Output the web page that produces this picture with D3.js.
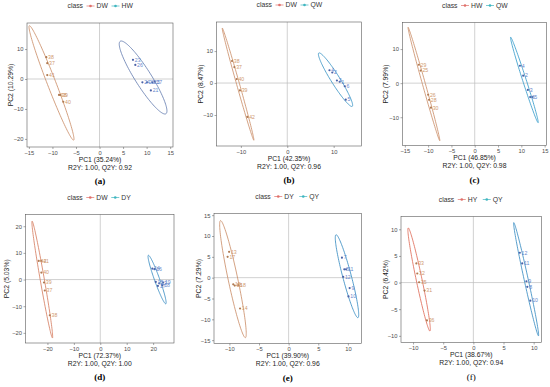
<!DOCTYPE html>
<html>
<head>
<meta charset="utf-8">
<script src="https://cdn.jsdelivr.net/npm/d3@7"></script>
<style>body{margin:0;background:#fff}</style>
</head>
<body>
<div id="chart"></div>
<script>
// ---- data ----
const panelLetters = ["(a)", "(b)", "(c)", "(d)", "(e)", "(f)"];
const classNames = [["DW", "HW"], ["DW", "QW"], ["HW", "QW"], ["DW", "DY"], ["DY", "QY"], ["HY", "QY"]];
const pc1Pct = ["35.24", "42.35", "46.85", "72.37", "39.90", "38.67"];
const pc2Pct = ["10.29", "8.47", "7.99", "5.03", "7.29", "6.42"];
const r2y = ["1.00", "1.00", "1.00", "1.00", "1.00", "1.00"];
const q2y = ["0.92", "0.96", "0.98", "1.00", "0.96", "0.94"];

const xTicks = [[-15, -10, -5, 0, 5, 10, 15], [-10, 0, 10], [-15, -10, -5, 0, 5, 10, 15],
                [-20, -10, 0, 10, 20], [-10, -5, 0, 5, 10], [-10, -5, 0, 5, 10]];
const yTicks = [[-20, -10, 0, 10], [-10, 0, 10], [-10, 0, 10],
                [-20, -10, 0, 10, 20], [-15, -10, -5, 0, 5, 10, 15], [-10, -5, 0, 5, 10]];
const xDomains = [[-15.4, 15.6], [-15.25, 16.0], [-15.5, 15.4], [-28.3, 27.9], [-12.6, 12.3], [-12.0, 11.3]];
const yDomains = [[-22.7, 18.7], [-19.7, 19.1], [-18.3, 17.8], [-23.8, 24.4], [-15.8, 15.4], [-11.25, 12.4]];

// scores: [PC1, PC2, sample id]
const scoresA1 = [[-11.3, 7.3, "38"], [-11.1, 5.3, "37"], [-11.1, 1.3, "41"], [-8.6, -5.3, "38"], [-8.3, -5.3, "39"], [-7.7, -7.6, "40"]];
const scoresA2 = [[7.1, 6.4, "23"], [7.6, 4.7, "26"], [9.1, -1.1, "24"], [10.1, -1.1, "22"], [11.2, -1.1, "25"], [11.7, -0.9, "27"], [10.9, -3.8, "21"]];
const scoresB1 = [[-11.9, 6.9, "38"], [-11.4, 5.0, "37"], [-10.9, 1.25, "40"], [-10.2, -2.3, "39"], [-8.6, -10.6, "42"]];
const scoresB2 = [[9.1, 4.0, "4"], [9.7, 3.3, "2"], [10.7, 0.8, "3"], [11.3, 0.4, "1"], [12.4, -1.0, "6"], [12.6, -5.2, "5"]];
const scoresC1 = [[-12.0, 5.4, "29"], [-11.6, 3.7, "25"], [-10.0, -3.4, "26"], [-9.8, -4.9, "28"], [-9.4, -7.2, "30"]];
const scoresC2 = [[9.7, 5.1, "4"], [10.4, 2.2, "2"], [11.4, -2.0, "3"], [11.9, -4.1, "6"], [12.4, -4.1, "5"]];
const scoresD1 = [[-23.3, 7.0, "42"], [-22.3, 7.0, "41"], [-22.3, 2.6, "40"], [-21.3, -1.1, "39"], [-21.0, -4.1, "37"], [-19.1, -13.4, "38"]];
const scoresD2 = [[19.7, 4.1, "14"], [20.5, 3.9, "16"], [21.0, -0.9, "15"], [22.3, -1.4, "13"], [23.5, -2.1, "18"], [21.8, -2.4, "17"], [23.8, -1.1, "19"]];
const scoresE1 = [[-10.05, 6.2, "13"], [-10.3, 5.0, "17"], [-9.35, -1.6, "16"], [-9.1, -1.9, "15"], [-8.5, -1.8, "18"], [-8.2, -7.4, "14"]];
const scoresE2 = [[9.0, 4.8, "7"], [9.4, 2.0, "8"], [9.7, 2.0, "11"], [9.2, 0.2, "12"], [10.3, -2.5, "9"], [10.1, -4.5, "10"]];
const scoresF1 = [[-9.45, 3.6, "33"], [-9.3, 1.7, "32"], [-9.0, 0.06, "35"], [-8.1, -1.5, "31"], [-7.7, -7.1, "36"]];
const scoresF2 = [[7.7, 5.6, "12"], [8.1, 3.6, "11"], [8.8, 0.25, "9"], [8.95, -0.8, "8"], [9.45, -3.4, "10"]];

// confidence ellipses: major-axis ends in PC units + minor/major ratio
const ellipsesA = [[-14.9, 17.8, -5.5, -20.4, 0.07], [4.4, 12.6, 14.1, -11.6, 0.19]];
const ellipsesB = [[-14.0, 17.2, -7.2, -17.9, 0.025], [6.8, 9.4, 14.0, -7.3, 0.14]];
const ellipsesC = [[-14.3, 16.4, -7.5, -16.9, 0.025], [7.7, 13.5, 13.6, -11.6, 0.04]];
const ellipsesD = [[-25.8, 21.9, -18.1, -21.9, 0.035], [18.2, 9.1, 24.8, -9.1, 0.1]];
const ellipsesE = [[-11.5, 13.7, -7.3, -14.4, 0.08], [8.0, 10.3, 11.7, -9.6, 0.1]];
const ellipsesF = [[-10.8, 10.25, -7.2, -9.1, 0.055], [6.7, 11.25, 10.8, -10.0, 0.035]];

const scores = [[scoresA1, scoresA2], [scoresB1, scoresB2], [scoresC1, scoresC2],
                [scoresD1, scoresD2], [scoresE1, scoresE2], [scoresF1, scoresF2]];
const ellipses = [ellipsesA, ellipsesB, ellipsesC, ellipsesD, ellipsesE, ellipsesF];

// ---- layout / style ----
const boxes = [
  {l: 27, t: 23, r: 173, b: 147, yt: 16},
  {l: 216.5, t: 22, r: 361.5, b: 146, yt: 16},
  {l: 402.5, t: 22.5, r: 546.5, b: 145.5, yt: 17},
  {l: 25.5, t: 214.5, r: 174, b: 343, yt: 19},
  {l: 214, t: 213.5, r: 361.5, b: 343.5, yt: 15},
  {l: 401, t: 216.5, r: 541.5, b: 342.5, yt: 15}
];
const pointColors = ["#b07a52", "#4a62a8"];
const labelColors = ["#d09a70", "#6688cc"];
const legendColors = ["#e0706a", "#3fb6c0"];
const ellipseColors = [["#c98a63", "#5f78ad"], ["#c98a63", "#2f8ec2"], ["#c98a63", "#2c97c8"],
                       ["#d4785a", "#2f86bf"], ["#c98a63", "#2f86bf"], ["#dd6550", "#2f86bf"]];
const letterWeights = ["bold", "bold", "bold", "bold", "bold", "normal"];

const W = 550, H = 387;
const sans = "'Liberation Sans', Arial, sans-serif";

const svg = d3.select("#chart").append("svg")
  .attr("width", W).attr("height", H)
  .attr("viewBox", [0, 0, W, H])
  .style("background", "#fff");

boxes.forEach((bx, i) => {
  const g = svg.append("g");
  const x = d3.scaleLinear().domain(xDomains[i]).range([bx.l, bx.r]);
  const y = d3.scaleLinear().domain(yDomains[i]).range([bx.b, bx.t]);
  const cx = (bx.l + bx.r) / 2, cy = (bx.t + bx.b) / 2;

  // zero lines
  g.append("line").attr("x1", x(0)).attr("x2", x(0)).attr("y1", bx.t).attr("y2", bx.b)
    .attr("stroke", "#bdbdbd").attr("stroke-width", 0.7);
  g.append("line").attr("y1", y(0)).attr("y2", y(0)).attr("x1", bx.l).attr("x2", bx.r)
    .attr("stroke", "#bdbdbd").attr("stroke-width", 0.7);

  // axes
  const xAxis = g.append("g").attr("transform", `translate(0,${bx.b})`)
    .call(d3.axisBottom(x).tickValues(xTicks[i]).tickSize(2).tickPadding(1.5));
  const yAxis = g.append("g").attr("transform", `translate(${bx.l},0)`)
    .call(d3.axisLeft(y).tickValues(yTicks[i]).tickSize(2).tickPadding(1.5));
  [xAxis, yAxis].forEach(a => {
    a.select(".domain").remove();
    a.selectAll(".tick line").attr("stroke", "#555").attr("stroke-width", 0.5);
    a.selectAll(".tick text").attr("fill", "#4d4d4d").attr("font-size", 5.8).attr("font-family", sans);
  });

  // panel border
  g.append("rect").attr("x", bx.l).attr("y", bx.t).attr("width", bx.r - bx.l).attr("height", bx.b - bx.t)
    .attr("fill", "none").attr("stroke", "#5a5a5a").attr("stroke-width", 0.6);

  // ellipses
  const line = d3.line();
  ellipses[i].forEach((e, k) => {
    const p1 = [x(e[0]), y(e[1])], p2 = [x(e[2]), y(e[3])];
    const c = [(p1[0] + p2[0]) / 2, (p1[1] + p2[1]) / 2];
    const dx = (p2[0] - p1[0]) / 2, dy = (p2[1] - p1[1]) / 2;
    const a = Math.hypot(dx, dy), b = a * e[4];
    const u = [dx / a, dy / a], v = [-u[1], u[0]];
    const pts = d3.range(0, 121).map(j => {
      const t = j / 120 * 2 * Math.PI;
      return [c[0] + a * Math.cos(t) * u[0] + b * Math.sin(t) * v[0],
              c[1] + a * Math.cos(t) * u[1] + b * Math.sin(t) * v[1]];
    });
    g.append("path").attr("d", line(pts)).attr("fill", "none")
      .attr("stroke", ellipseColors[i][k]).attr("stroke-width", 0.8);
  });

  // points + labels
  scores[i].forEach((grp, k) => {
    g.append("g").selectAll("circle").data(grp).join("circle")
      .attr("cx", d => x(d[0])).attr("cy", d => y(d[1])).attr("r", 1.1)
      .attr("fill", pointColors[k]);
    g.append("g").selectAll("text").data(grp).join("text")
      .attr("x", d => x(d[0]) + 1.8).attr("y", d => y(d[1]))
      .attr("dy", "0.35em").attr("font-size", 5.2).attr("font-family", sans)
      .attr("fill", labelColors[k]).text(d => d[2]);
  });

  // legend
  const lg = g.append("g").attr("font-family", sans).attr("font-size", 6.8);
  const ly = bx.t - 17;
  const items = [{t: "class", w: 19}, {key: 0, w: 10}, {t: classNames[i][0], w: 15}, {key: 1, w: 10}, {t: classNames[i][1], w: 11}];
  const total = d3.sum(items, d => d.w);
  let lx = cx - total / 2;
  items.forEach(it => {
    if (it.key !== undefined) {
      lg.append("line").attr("x1", lx).attr("x2", lx + 8).attr("y1", ly).attr("y2", ly)
        .attr("stroke", legendColors[it.key]).attr("stroke-width", 0.7);
      lg.append("circle").attr("cx", lx + 4).attr("cy", ly).attr("r", 1.3).attr("fill", legendColors[it.key]);
    } else {
      lg.append("text").attr("x", lx).attr("y", ly).attr("dy", "0.35em").attr("fill", "#333").text(it.t);
    }
    lx += it.w;
  });

  // titles
  g.append("text").attr("x", cx).attr("y", bx.b + 12.5).attr("dy", "0.35em")
    .attr("text-anchor", "middle").attr("font-family", sans).attr("font-size", 6.8).attr("fill", "#222")
    .text(`PC1 (${pc1Pct[i]}%)`);
  g.append("text").attr("x", cx).attr("y", bx.b + 20.5).attr("dy", "0.35em")
    .attr("text-anchor", "middle").attr("font-family", sans).attr("font-size", 6.8).attr("fill", "#222")
    .text(`R2Y: ${r2y[i]}, Q2Y: ${q2y[i]}`);
  g.append("text").attr("transform", `translate(${bx.l - bx.yt},${cy}) rotate(-90)`).attr("dy", "0.35em")
    .attr("text-anchor", "middle").attr("font-family", sans).attr("font-size", 6.8).attr("fill", "#222")
    .text(`PC2 (${pc2Pct[i]}%)`);
  g.append("text").attr("x", cx).attr("y", bx.b + 34).attr("dy", "0.35em")
    .attr("text-anchor", "middle").attr("font-family", "'Liberation Serif', 'Times New Roman', serif")
    .attr("font-size", 9).attr("font-weight", letterWeights[i]).attr("fill", "#000")
    .text(panelLetters[i]);
});
</script>
</body>
</html>
